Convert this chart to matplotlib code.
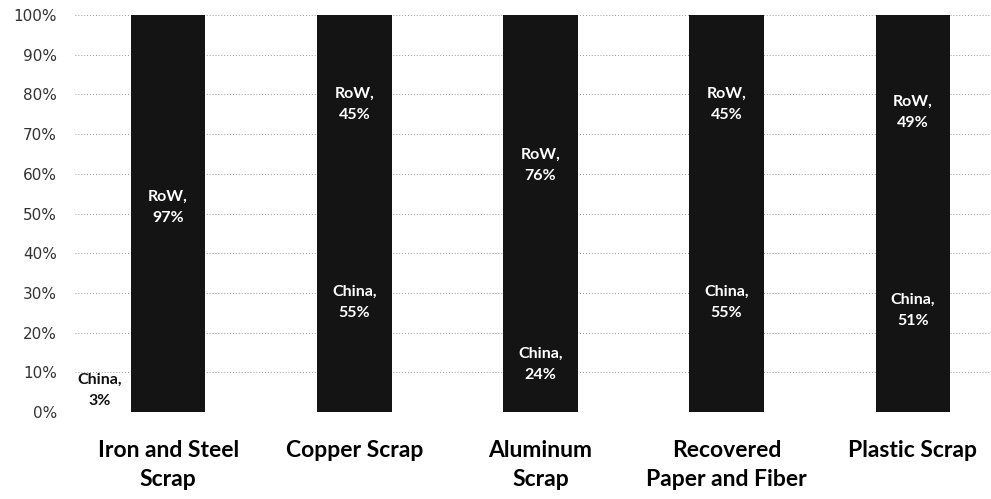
import matplotlib
matplotlib.use("Agg")
import matplotlib.pyplot as plt
import numpy as np

categories = ["Iron and Steel\nScrap", "Copper Scrap", "Aluminum\nScrap", "Recovered\nPaper and Fiber", "Plastic Scrap"]
china = [3, 55, 24, 55, 51]
row = [97, 45, 76, 45, 49]
yticks = list(range(0, 101, 10))

fig = plt.figure(figsize=(9.91, 4.99), dpi=100)
ax = fig.add_axes([75/991, 1-412/499, 1-75/991, (412-15)/499])
x = np.arange(len(categories))
w = 0.40
bar_color = "#141414"
ax.bar(x, china, w, color=bar_color, zorder=2)
ax.bar(x, row, w, bottom=china, color=bar_color, zorder=2)

ax.set_xlim(-0.5, 4.42)
ax.set_ylim(0, 100)
ax.set_yticks(yticks)
ax.set_yticklabels([f"{v}%" for v in yticks], fontsize=11, color="#333333", family="DejaVu Sans")
ax.yaxis.grid(True, linestyle=(0, (1, 2)), color="#999999", linewidth=0.7, zorder=0)
ax.tick_params(axis="y", length=0, pad=13)
ax.tick_params(axis="x", length=0, pad=20)
ax.set_xticks(x)
ax.set_xticklabels(categories, fontsize=16.5, fontweight="bold", family="Lato", linespacing=1.5)
for s in ax.spines.values():
    s.set_visible(False)

lab = dict(fontsize=11.5, fontweight="bold", family="Lato", ha="center", va="center", linespacing=1.65)
for i in range(len(categories)):
    c, r = china[i], row[i]
    if c < 10:
        ax.text(i - 0.37, c + 2.5, f"China,\n{c}%", color="#111111", **lab)
    else:
        ax.text(i, c / 2, f"China,\n{c}%", color="white", **lab)
    ax.text(i, c + r / 2, f"RoW,\n{r}%", color="white", **lab)

fig.savefig("out.png", dpi=100)
